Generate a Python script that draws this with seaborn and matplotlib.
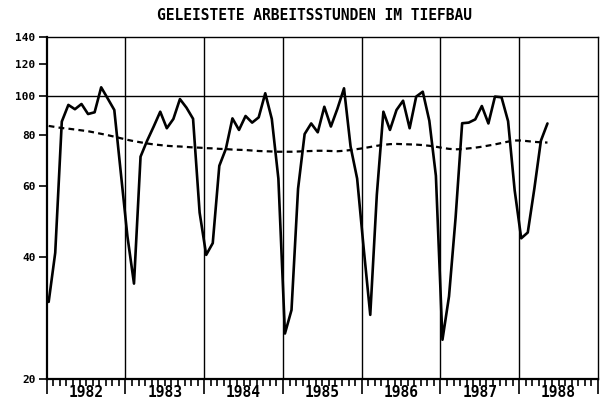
import numpy as np
import pandas as pd
import matplotlib
matplotlib.use("Agg")
import matplotlib.pyplot as plt
import seaborn as sns
from matplotlib.ticker import FixedLocator, NullLocator

# ---- data (monthly, Jan 1982 - May 1988) ----
start_year = 1982
years = [1982, 1983, 1984, 1985, 1986, 1987, 1988]
hours = [
    31.0, 41.0, 86.4, 95.0, 92.7, 95.5, 90.2, 91.1, 105.0, 98.5, 92.3, 64.4,   # 1982
    45.0, 34.4, 70.8, 77.5, 84.0, 91.4, 83.2, 87.7, 98.2, 93.5, 87.8, 51.5,   # 1983
    40.5, 43.3, 67.2, 74.0, 88.0, 82.4, 89.2, 85.9, 88.5, 101.5, 87.7, 62.5,  # 1984
    25.9, 29.6, 59.0, 80.5, 85.5, 81.3, 94.0, 84.0, 93.0, 104.4, 75.0, 62.5,  # 1985
    42.0, 28.8, 57.0, 91.4, 82.4, 92.3, 97.3, 83.2, 99.6, 102.4, 86.8, 63.5,  # 1986
    25.0, 32.0, 50.0, 85.6, 85.9, 87.5, 94.4, 85.5, 99.6, 99.2, 86.6, 58.5,   # 1987
    44.5, 46.0, 59.0, 77.5, 85.5,                                             # 1988
]
trend = [
    84.3, 83.8, 83.3, 83.0, 82.6, 82.2, 81.8, 81.2, 80.6, 80.0, 79.3, 78.6,
    77.9, 77.3, 76.8, 76.3, 75.9, 75.6, 75.3, 75.1, 75.0, 74.8, 74.6, 74.5,
    74.3, 74.2, 74.0, 73.9, 73.7, 73.6, 73.5, 73.3, 73.1, 73.0, 72.9, 72.8,
    72.8, 72.8, 72.9, 73.0, 73.1, 73.2, 73.2, 73.1, 73.0, 73.2, 73.5, 73.9,
    74.3, 74.8, 75.3, 75.7, 76.0, 76.1, 76.0, 75.9, 75.8, 75.6, 75.3, 74.9,
    74.4, 74.0, 73.8, 73.9, 74.2, 74.5, 74.9, 75.4, 75.9, 76.5, 77.1, 77.6,
    77.6, 77.3, 77.0, 76.8, 76.7,
]
yticks = [20, 40, 60, 80, 100, 120, 140]
title = "GELEISTETE ARBEITSSTUNDEN IM TIEFBAU"

month_idx = np.arange(len(hours))
df = pd.DataFrame({
    "t": start_year + (month_idx + 0.3) / 12.0,
    "Arbeitsstunden": hours,
    "Trend": trend,
})

sns.set_style("ticks")
plt.rcParams["font.family"] = ["DejaVu Sans Mono", "DejaVu Sans"]
plt.rcParams["font.weight"] = "bold"
plt.rcParams["text.color"] = "black"
plt.rcParams["xtick.color"] = "black"
plt.rcParams["ytick.color"] = "black"
plt.rcParams["axes.labelcolor"] = "black"

W, H = 602, 401
fig = plt.figure(figsize=(W / 100, H / 100), dpi=100)
left, right, top, bottom = 46.7, 598.0, 36.7, 379.0
ax = fig.add_axes([left / W, (H - bottom) / H, (right - left) / W, (bottom - top) / H])

sns.lineplot(data=df, x="t", y="Arbeitsstunden", color="black", lw=1.9, ax=ax)
sns.lineplot(data=df, x="t", y="Trend", color="black", lw=1.6, ax=ax)
ax.lines[-1].set_dashes([2.6, 1.9])

ax.set_yscale("log")
ax.set_ylim(20, 140)
ax.set_xlim(years[0], years[-1] + 1)

ax.axhline(100, color="black", lw=1.0, zorder=1)
for y in years[1:]:
    ax.axvline(y, color="black", lw=1.0, zorder=1)

ax.set_yticks(yticks)
ax.set_yticklabels([str(v) for v in yticks])
ax.yaxis.set_minor_locator(NullLocator())

ax.set_xticks(list(years) + [years[-1] + 1])
ax.set_xticklabels([])
ax.xaxis.set_minor_locator(FixedLocator(start_year + np.arange(1, 12 * len(years)) / 12.0))

ax.tick_params(axis="x", which="major", length=11, width=1.2, direction="out", color="black")
ax.tick_params(axis="x", which="minor", length=5, width=1.2, direction="out", color="black")
ax.tick_params(axis="y", which="major", length=6, width=1.2, direction="out", color="black",
               labelsize=8, pad=2, labelcolor="black")
for lab in ax.get_yticklabels():
    lab.set_fontweight("bold")

for y in years:
    ax.text(y + 0.5, -0.038, str(y), transform=ax.get_xaxis_transform(),
            ha="center", va="center", fontsize=10.5, fontweight="bold", color="black")

ax.set_xlabel("")
ax.set_ylabel("")
for side, sp in ax.spines.items():
    sp.set_visible(True)
    sp.set_color("black")
    sp.set_linewidth(1.6 if side in ("left", "bottom") else 1.0)

fig.text(0.523, 1 - 15.5 / H, title, ha="center", va="center", fontsize=10.5,
         fontweight="bold", color="black")

fig.savefig("out.png", dpi=100)
